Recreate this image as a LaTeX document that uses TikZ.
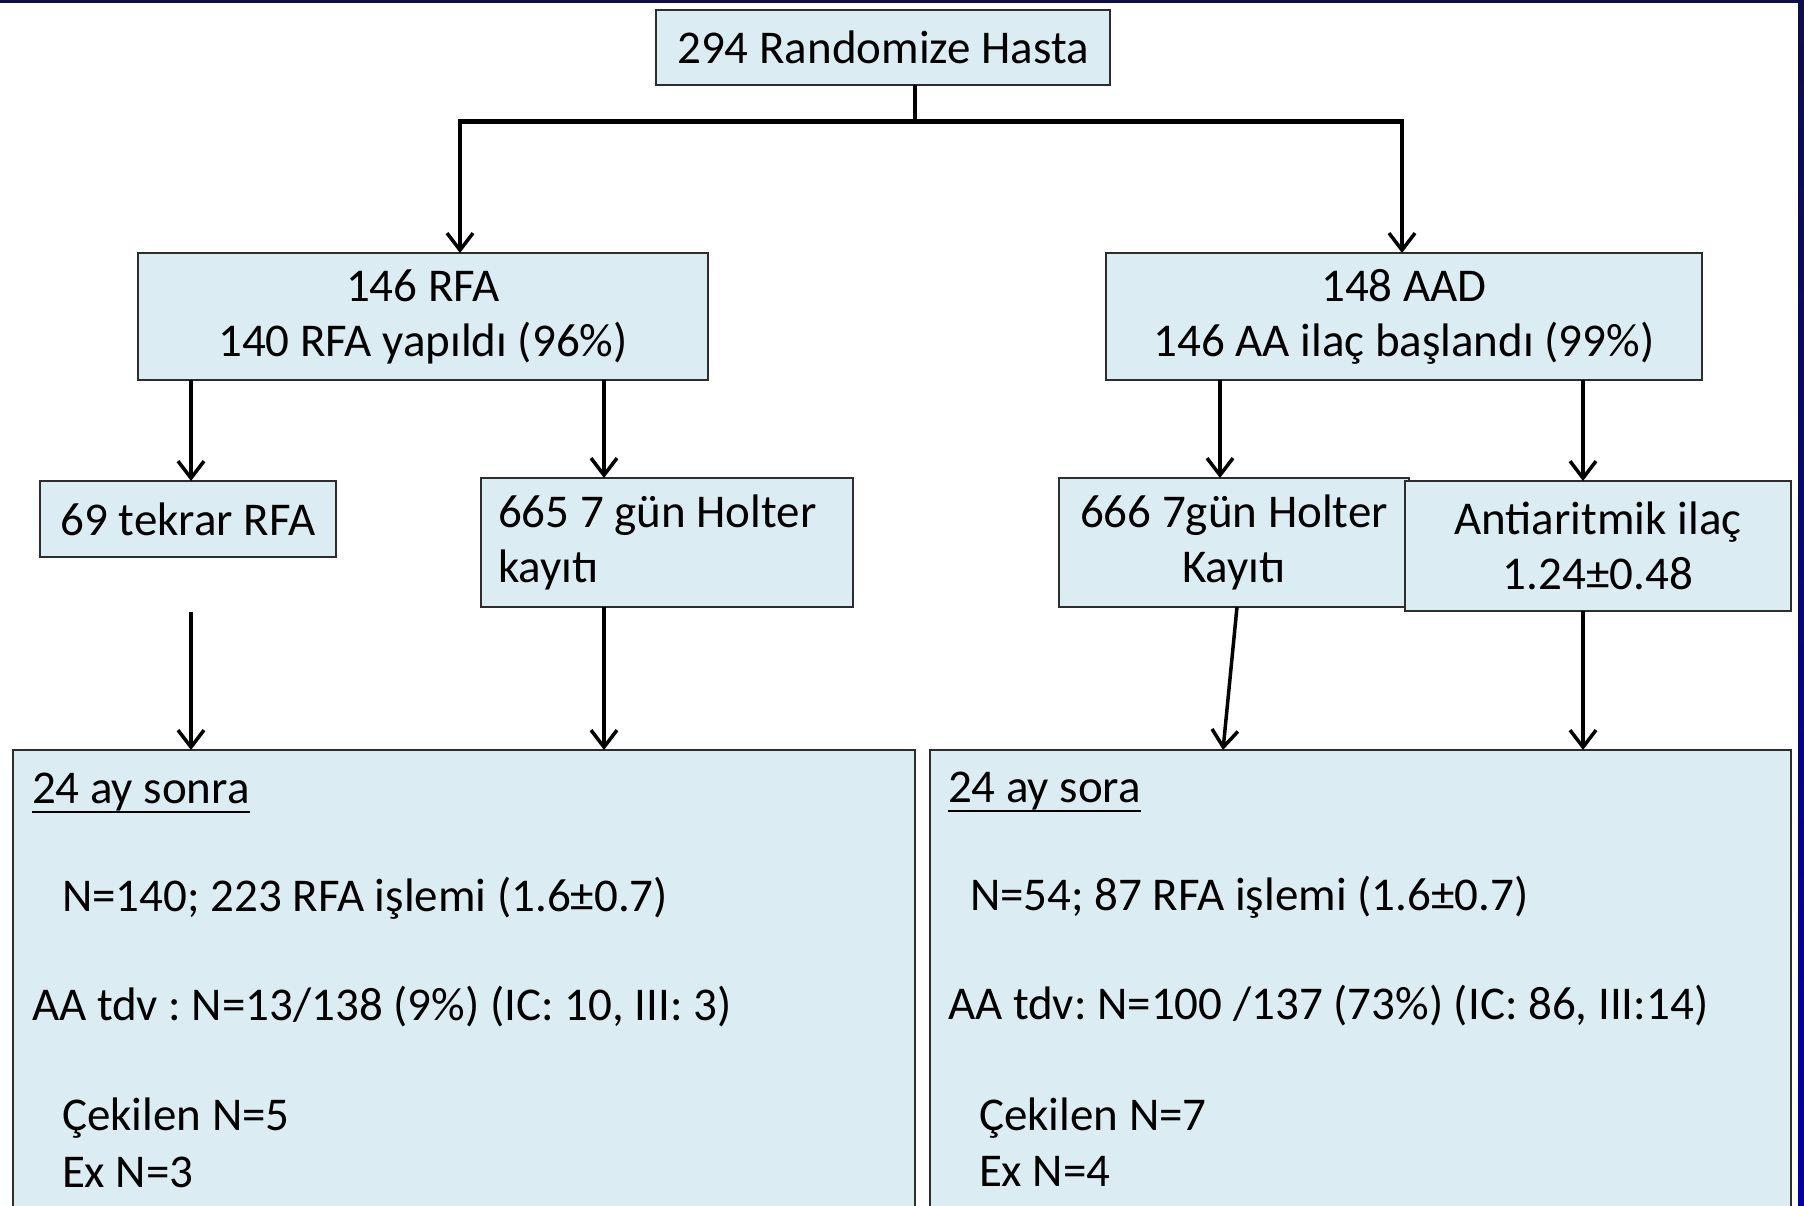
\documentclass[tikz,border=0pt]{standalone}
\usepackage{fontspec}
\setmainfont{Carlito}
\usetikzlibrary{arrows.meta,calc}
\definecolor{boxfill}{RGB}{219,237,243}
\definecolor{boxline}{RGB}{45,45,45}
\definecolor{framenavy}{RGB}{14,14,72}
\definecolor{frameblue}{RGB}{0,0,165}
\frenchspacing
% underlined heading with the rule cutting through the descenders
\newcommand\ulabel[1]{\setbox0\hbox{#1}\rlap{\rule[-10pt]{\wd0}{2.5pt}}\box0}
\begin{document}
\begin{tikzpicture}[x=1pt,y=-1pt,
  every node/.style={font=\fontsize{47}{55}\selectfont},
  box/.style={draw=boxline, fill=boxfill, line width=2.5pt, inner sep=0pt, outer sep=0pt},
  link/.style={line width=3.5pt, -{Straight Barb[length=17pt,width=26pt,line width=3.5pt]}},
  bus/.style={line width=5pt}]

\useasboundingbox (0,0) rectangle (1804,1206);
\clip (0,0) rectangle (1804,1206);
\fill[white] (0,0) rectangle (1804,1206);

% boxes
\node[box, minimum width=454pt, minimum height=75pt] (top) at (883,47.5) {294 Randomize Hasta};
\node[box, minimum width=570pt, minimum height=127pt, align=center] (rfa) at (423,316.5)
  {146 RFA\\140 RFA yapıldı (96\%)};
\node[box, minimum width=596pt, minimum height=127pt, align=center] (aad) at (1404,316.5)
  {148 AAD\\146 AA ilaç başlandı (99\%)};
\node[box, minimum width=296pt, minimum height=76pt] (tek) at (188,519) {69 tekrar RFA};
\node[box, minimum width=372pt, minimum height=129pt, text width=338pt, align=flush left] (h665) at (667,542.5)
  {665 7 gün Holter\\kayıtı};
\node[box, minimum width=350pt, minimum height=129pt, align=center] (h666) at (1234,542.5)
  {666 7gün Holter\\Kayıtı};
\node[box, minimum width=386pt, minimum height=130pt, align=center] (anti) at (1598,546)
  {Antiaritmik ilaç\\1.24±0.48};

\node[box, anchor=north west, inner xsep=19pt] (bl) at (13,750)
  {\parbox[c][500pt][t]{864pt}{%
    \rule{0pt}{53pt}\ulabel{24 ay sonra}\\[53pt]
    \hspace*{30pt}N=140; 223 RFA işlemi (1.6±0.7)\\[54pt]
    AA tdv : N=13/138 (9\%) (IC: 10, III: 3)\\[55pt]
    \hspace*{30pt}Çekilen N=5\\[2pt]
    \hspace*{30pt}Ex N=3}};
\node[box, anchor=north west, inner xsep=18pt] (br) at (930,750)
  {\parbox[c][500pt][t]{825pt}{%
    \rule{0pt}{52pt}\ulabel{24 ay sora}\\[53pt]
    \hspace*{22pt}N=54; 87 RFA işlemi (1.6±0.7)\\[54pt]
    AA tdv: N=100 /137 (73\%) (IC: 86, III:14)\\[56pt]
    \hspace*{31pt}Çekilen N=7\\[1pt]
    \hspace*{31pt}Ex N=4}};

% connector positions
\coordinate (split) at (915,122);
\coordinate (jl) at (460,122);
\coordinate (jr) at (1402,122);
\coordinate (c69) at (191,0);
\coordinate (t69) at (191,612);
\coordinate (c665) at (604,0);
\coordinate (c666) at (1220,0);
\coordinate (s666) at (1237,0);
\coordinate (e666) at (1223,0);
\coordinate (canti) at (1583,0);

% connectors
\draw[line width=3.5pt] (top.south -| split) -- (split);
\draw[bus] ([xshift=-1.75pt]jl) -- ([xshift=1.75pt]jr);
\draw[link] (jl) -- (jl |- rfa.north);
\draw[link] (jr) -- (jr |- aad.north);
\draw[link] (c69 |- rfa.south) -- (c69 |- tek.north);
\draw[link] (c665 |- rfa.south) -- (c665 |- h665.north);
\draw[link] (c666 |- aad.south) -- (c666 |- h666.north);
\draw[link] (canti |- aad.south) -- (canti |- anti.north);
\draw[link] (t69) -- (t69 |- bl.north);
\draw[link] (c665 |- h665.south) -- (c665 |- bl.north);
\draw[link] (s666 |- h666.south) -- (e666 |- br.north);
\draw[link] (canti |- anti.south) -- (canti |- br.north);

% slide frame
\fill[framenavy] (0,0) rectangle (1804,3);
\shade[top color=framenavy, bottom color=frameblue] (1798,0) rectangle (1804,1206);
\end{tikzpicture}
\end{document}
